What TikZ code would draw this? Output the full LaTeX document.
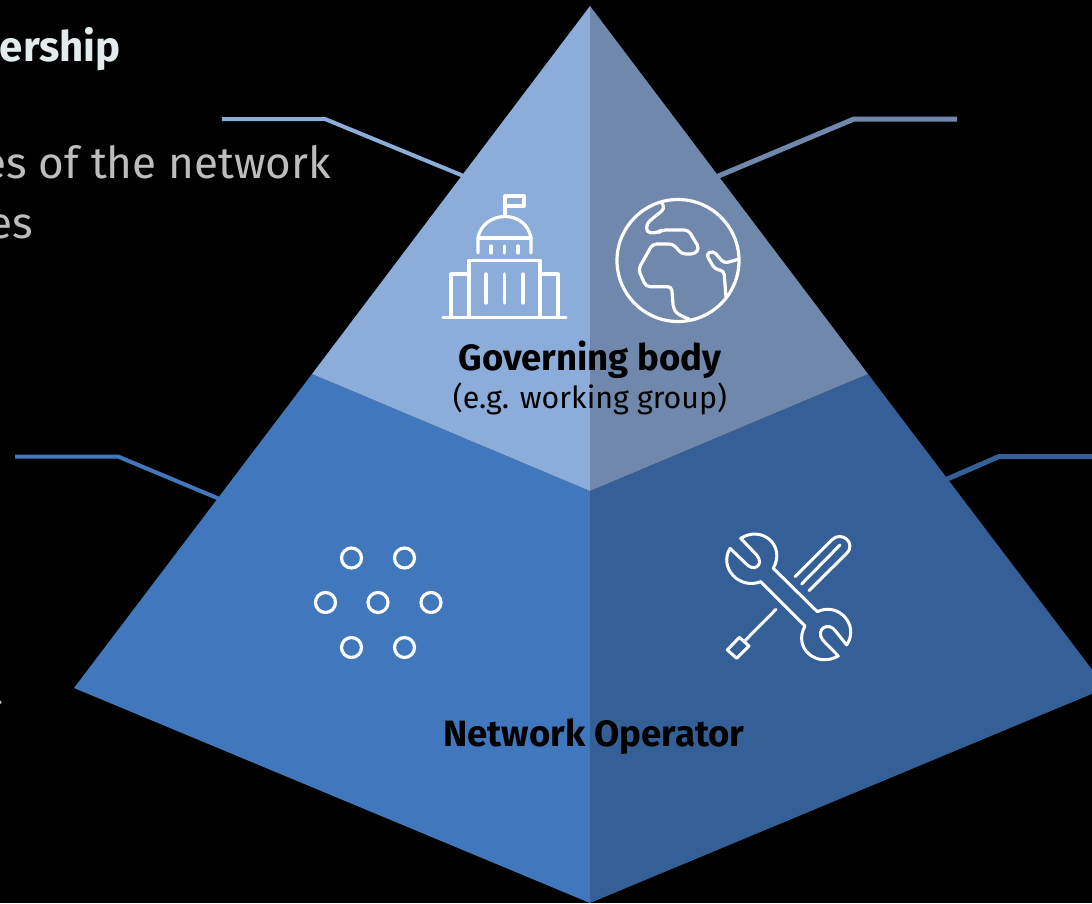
\documentclass[tikz,border=0pt]{standalone}
\usepackage{fontspec}
\setmainfont{Fira Sans}
\usepackage{tikz}
\usetikzlibrary{positioning}
\definecolor{GovLight}{HTML}{8CADD9}
\definecolor{GovDark}{HTML}{6F88AB}
\definecolor{NetLight}{HTML}{4077BD}
\definecolor{NetDark}{HTML}{355F97}
\definecolor{TitleGrey}{HTML}{E3ECEC}
\definecolor{BodyGrey}{HTML}{BDBDBD}
\tikzset{
    leader/.style={line width=4pt},
    icon/.style={white, line width=3.2pt, line cap=round, line join=round},
    thinicon/.style={white, line width=3pt, line cap=round, line join=round},
    pyrlabel/.style={text=black, inner sep=0pt}
}

\begin{document}
\begin{tikzpicture}[x=1pt, y=-1pt]
    \useasboundingbox (0,0) rectangle (1092,903);
    \clip (0,0) rectangle (1092,903);
    \fill[black] (0,0) rectangle (1092,903);

    % === Cut-off text on the left ===
    \node[anchor=base east, inner sep=0pt, text=TitleGrey, font=\fontsize{42}{42}\selectfont\bfseries] (title) at (121,61) {ership};
    \node[anchor=base east, inner sep=0pt, text=BodyGrey, font=\fontsize{44}{44}\selectfont] (lineone) at (331,178) {es of the network};
    \node[anchor=base east, inner sep=0pt, text=BodyGrey, font=\fontsize{44}{44}\selectfont] (linetwo) at (33,238) {es};
    \node[anchor=base east, inner sep=0pt, text=BodyGrey, font=\fontsize{44}{44}\selectfont] (linethree) at (3,704) {t};

    % === Leader lines ===
    \coordinate (leadA) at (222,119);
    \coordinate (leadAb) at (325,119);
    \coordinate (leadAc) at (466,177);
    \draw[leader, GovLight] (leadA) -- (leadAb) -- (leadAc);

    \coordinate (leadB) at (957,119);
    \coordinate (leadBb) at (854,119);
    \coordinate (leadBc) at (716,177);
    \draw[leader, GovDark, line width=5pt] (leadB) -- (leadBb) -- (leadBc);

    \coordinate (leadC) at (15,456.5);
    \coordinate (leadCb) at (118,456.5);
    \coordinate (leadCc) at (222,500);
    \draw[leader, NetLight] (leadC) -- (leadCb) -- (leadCc);

    \coordinate (leadD) at (1092,456.5);
    \coordinate (leadDb) at (999,456.5);
    \coordinate (leadDc) at (945,480);
    \draw[leader, NetDark, line width=5pt] (leadD) -- (leadDb) -- (leadDc);

    % === Pyramid faces ===
    \coordinate (apex) at (590,6);
    \coordinate (centre) at (590,491);
    \coordinate (foot) at (590,903);
    \coordinate (midL) at (312,374);
    \coordinate (midR) at (868,374);
    \coordinate (cornerL) at (74,688);
    \coordinate (cornerR) at (1106,688);

    \fill[NetLight] (midL) -- (centre) -- (foot) -- (cornerL) -- cycle;
    \fill[NetDark] (midR) -- (centre) -- (foot) -- (cornerR) -- cycle;
    \fill[GovLight] (apex) -- (centre) -- (midL) -- cycle;
    \fill[GovDark] (apex) -- (centre) -- (midR) -- cycle;

    % === Building icon ===
    \draw[icon] (443,317.5) -- (566,317.5);
    \draw[icon] (451,317) -- (451,274) -- (469,274);
    \draw[icon] (469,317) -- (469,260.5) -- (540,260.5) -- (540,317);
    \draw[icon] (540,274) -- (558,274) -- (558,317);
    \draw[icon] (486,274) -- (486,303);
    \draw[icon] (504.5,274) -- (504.5,303);
    \draw[icon] (523,274) -- (523,303);
    \draw[icon] (478,253) -- (478,238) .. controls (480,225) and (492,216.5) .. (505,216.5) .. controls (518,216.5) and (529,225) .. (531,238) -- (531,253);
    \draw[icon] (478,238) -- (531,238);
    \draw[icon] (491,246) -- (491,253);
    \draw[icon] (504.5,246) -- (504.5,253);
    \draw[icon] (518,246) -- (518,253);
    \draw[icon] (505,216) -- (505,196) -- (524,196) -- (524,206) -- (505,206);

    % === Globe icon ===
    \draw[icon] (678,260.5) circle (61);
    \begin{scope}[shift={(420,180)}, x=0.3333pt, y=-0.3333pt]
        \draw[icon, rounded corners=4pt] (725,68) -- (735,85) -- (680,130) -- (680,158) -- (715,158) -- (725,150) -- (805,150) -- (838,205) -- (825,222) -- (785,222) -- (760,192) -- (698,192) -- (655,268) -- (678,320) -- (755,320) -- (760,385) -- (772,402) -- (808,418);
        \draw[icon, rounded corners=4pt] (955,238) -- (912,250) -- (880,212) -- (858,222) -- (885,268) -- (912,272) -- (918,350);
    \end{scope}

    % === Network icon ===
    \draw[icon] (351.5,558) circle (10);
    \draw[icon] (404.5,558) circle (10);
    \draw[icon] (325.5,602.5) circle (10);
    \draw[icon] (378,602.5) circle (10);
    \draw[icon] (431,602.5) circle (10);
    \draw[icon] (351.5,647.5) circle (10);
    \draw[icon] (404.5,647.5) circle (10);

    % === Tools icon ===
    \begin{scope}[shift={(700,520)}, x=0.3333pt, y=-0.3333pt]
        % wrench
        \draw[thinicon] (90,85) .. controls (55,145) and (120,210) .. (182,185) -- (315,318)
            .. controls (278,385) and (350,445) .. (415,408)
            -- (368,360) .. controls (345,330) and (385,300) .. (408,335) -- (440,375)
            .. controls (480,315) and (415,245) .. (352,275) -- (220,145)
            .. controls (258,75) and (185,15) .. (122,55)
            -- (170,105) .. controls (195,135) and (160,160) .. (135,128) -- cycle;
        % screwdriver
        \draw[thinicon] (228,268) -- (135,362);
        \draw[thinicon] (118,352) -- (147,378) -- (110,415) -- (82,390) -- cycle;
        \draw[thinicon] (285,170) -- (395,60) .. controls (425,30) and (470,70) .. (440,100) -- (327,212);
        \draw[thinicon] (305,192) -- (420,75);
    \end{scope}

    % === Labels ===
    \node[pyrlabel, font=\fontsize{36.5}{36.5}\selectfont\bfseries] (govbody) at (590,359.5) {Governing body};
    \node[pyrlabel, font=\fontsize{30.4}{30.4}\selectfont] (govnote) at (590,399) {(e.g. working group)};
    \node[pyrlabel, font=\fontsize{36.6}{36.6}\selectfont\bfseries] (netop) at (594,737) {Network Operator};
\end{tikzpicture}
\end{document}
